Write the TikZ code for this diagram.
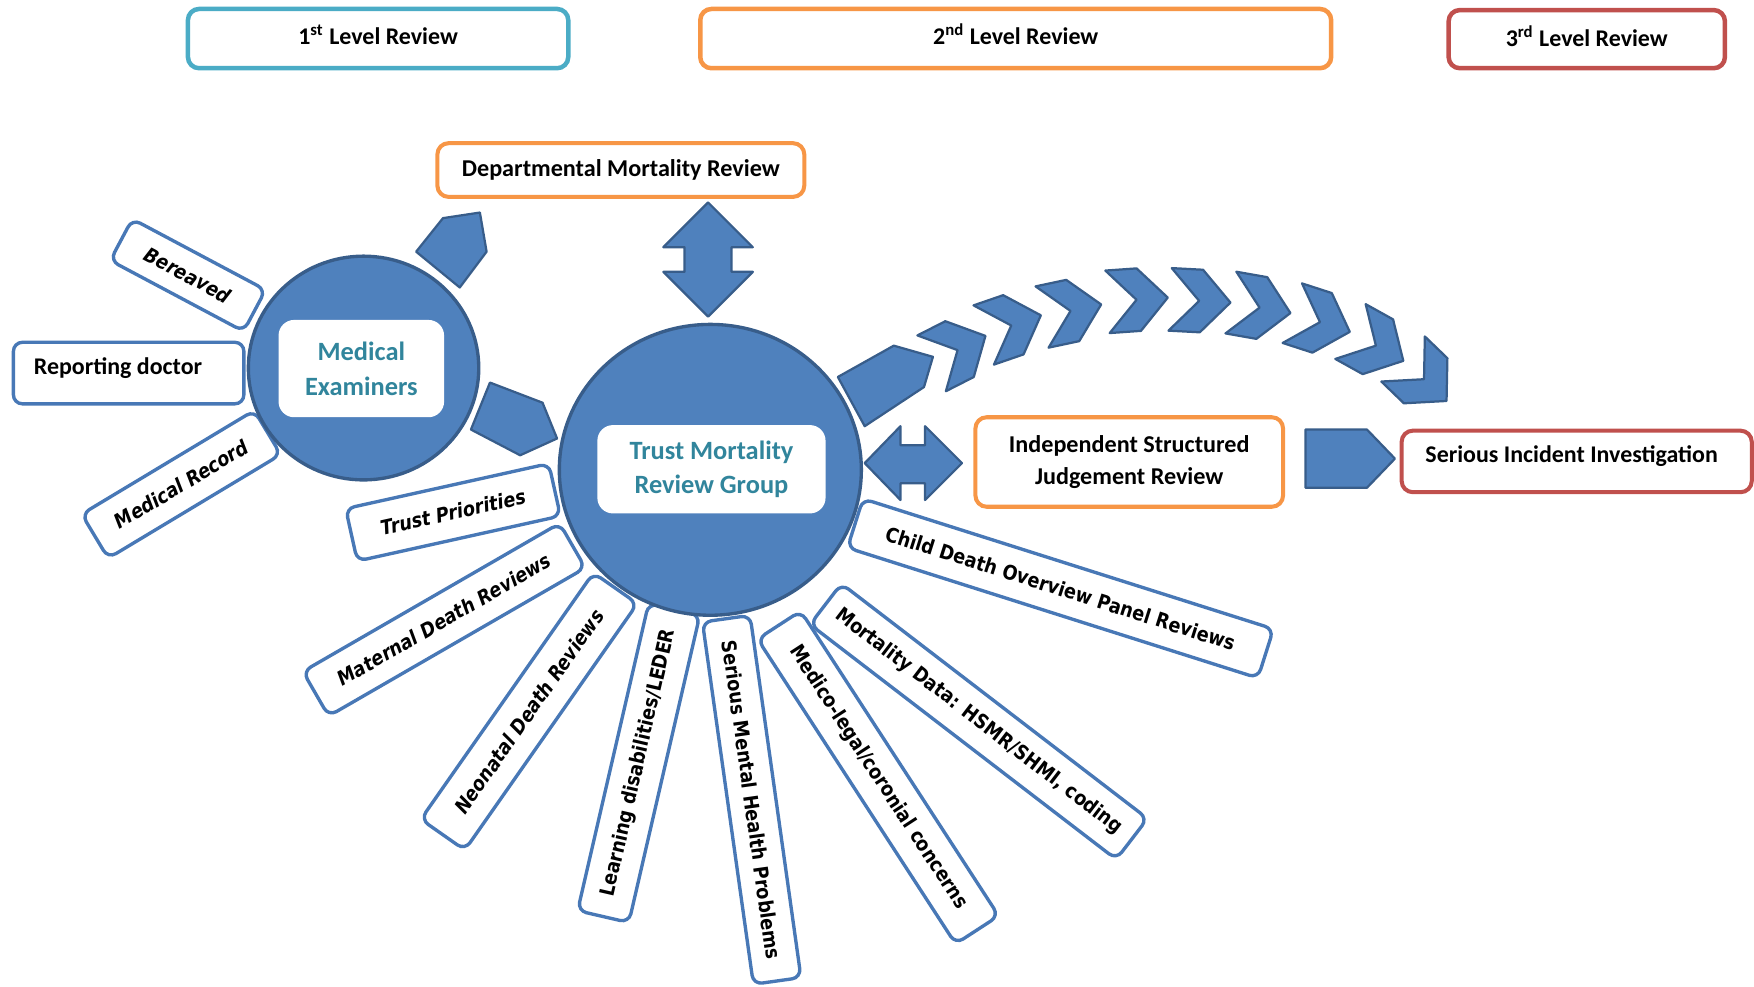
\documentclass[tikz,border=0pt]{standalone}
\usepackage{fontspec}
\setmainfont{Carlito}
\newfontfamily\rayfont[FakeStretch=0.88]{DejaVu Sans}
\usetikzlibrary{shapes.geometric}
\definecolor{cteal}{RGB}{75,172,198}
\definecolor{corange}{RGB}{247,150,70}
\definecolor{cred}{RGB}{192,80,77}
\definecolor{mblue}{RGB}{79,129,189}
\definecolor{dblue}{RGB}{56,93,138}
\definecolor{rblue}{RGB}{72,120,182}
\definecolor{ttext}{RGB}{49,133,156}
\begin{document}
\begin{tikzpicture}[x=0.5pt,y=-0.5pt,
  lvl/.style={draw, line width=2pt, rounded corners=5pt, fill=white, inner sep=0pt,
    font=\fontsize{10.7}{13}\selectfont\bfseries},
  obox/.style={draw, line width=1.8pt, rounded corners=5pt, fill=white, inner sep=0pt,
    font=\fontsize{10.8}{14.5}\selectfont\bfseries, align=center},
  ray/.style={draw=rblue, line width=1.5pt, rounded corners=4pt, fill=white, inner sep=0pt,
    font=\rayfont\fontsize{9}{11}\selectfont\bfseries},
  irect/.style={fill=white, rounded corners=7pt, inner sep=0pt, align=center,
    text=ttext, font=\fontsize{11.8}{15.5}\selectfont\bfseries},
  circ/.style={ellipse, fill=mblue, draw=dblue, line width=1.5pt, inner sep=0pt},
  shp/.style={fill=mblue, draw=dblue, line width=1pt, line join=round},
  txt/.style={inner sep=0pt, font=\fontsize{10.7}{13}\selectfont\bfseries}]
\useasboundingbox (0,0) rectangle (1568,882);

% level headers
\node[lvl, draw=cteal, minimum width=170pt, minimum height=26.5pt] (l1) at (338,34.5) {};
\node[txt] (l1t) at (338,31.5) {1\textsuperscript{st} Level Review};
\node[lvl, draw=corange, minimum width=282pt, minimum height=26.5pt] (l2) at (908,34.5) {};
\node[txt] (l2t) at (908,30.5) {2\textsuperscript{nd} Level Review};
\node[lvl, draw=cred, minimum width=123.5pt, minimum height=26pt] (l3) at (1418.5,35) {};
\node[txt] (l3t) at (1418.5,32.5) {3\textsuperscript{rd} Level Review};

% rays of the trust group
\node[ray, minimum width=192.5pt, minimum height=23pt, rotate=-17.6] (child) at (948,526) {Child Death Overview Panel Reviews};
\node[ray, minimum width=172.5pt, minimum height=23pt, rotate=-37.5] (mdata) at (875,645) {Mortality Data: HSMR/SHMI, coding};
\node[ray, minimum width=162.5pt, minimum height=23pt, rotate=-57] (medleg) at (785,695) {Medico-legal/coronial concerns};
\node[ray, minimum width=163.5pt, minimum height=21.5pt, rotate=-82] (smh) at (672,715) {Serious Mental Health Problems};
\node[ray, minimum width=141pt, minimum height=23.5pt, rotate=77] (ld) at (571,682) {Learning disabilities/LEDER};
\node[ray, minimum width=134.5pt, minimum height=24pt, rotate=55] (neo) at (473,636) {\itshape Neonatal Death Reviews};
\node[ray, minimum width=132.5pt, minimum height=23pt, rotate=30] (mat) at (397,554) {\itshape Maternal Death Reviews};
\node[ray, minimum width=93pt, minimum height=24pt, rotate=12.5] (tp) at (405,458) {\itshape Trust Priorities};

% rays of the medical examiners
\node[ray, minimum width=67.5pt, minimum height=21pt, rotate=-28] (ber) at (168,246) {\itshape Bereaved};
\node[ray, minimum width=90pt, minimum height=23pt, rotate=31] (mrec) at (162,433) {\itshape Medical Record};
\node[ray, minimum width=103pt, minimum height=27.5pt] (rd) at (115,333.5) {};
\node[txt] (rdt) at (105.5,329) {Reporting doctor};

% circles
\node[circ, minimum width=103pt, minimum height=100pt] (me) at (325,329) {};
\node[circ, minimum width=135pt, minimum height=130pt] (tmrg) at (635,420) {};
\node[irect, minimum width=74pt, minimum height=43.5pt] (mei) at (323,329.5) {Medical\\Examiners};
\node[irect, minimum width=102pt, minimum height=39.5pt] (tmi) at (636,419.5) {Trust Mortality\\Review Group};

% second / third level boxes
\node[obox, draw=corange, minimum width=164pt, minimum height=24pt] (dmr) at (555,152) {Departmental Mortality Review};
\node[obox, draw=corange, minimum width=137.5pt, minimum height=40pt] (isj) at (1009.5,413) {Independent Structured\\Judgement Review};
\node[obox, draw=cred, minimum width=156.5pt, minimum height=27.5pt] (sii) at (1409.5,412.5) {};
\node[txt] (siit) at (1405,408) {Serious Incident Investigation};

% block arrows
\draw[shp] (372,225) -- (396,195) -- (429,190) -- (435,225) -- (411,257) -- cycle;
\draw[shp] (438,342) -- (485,360) -- (498,392) -- (465,407) -- (421,384) -- cycle;
\draw[shp] (749,337) -- (799,309) -- (834,319) -- (826,346) -- (773,381) -- cycle;
\draw[shp] (1167,384) -- (1222,384) -- (1247,410) -- (1222,436) -- (1167,436) -- cycle;
\draw[shp] (633,181) -- (673,221) -- (654,221) -- (654,243) -- (673,243) -- (633,283)
  -- (593,243) -- (612,243) -- (612,221) -- (593,221) -- cycle;
\draw[shp] (773,414) -- (805,381) -- (805,398) -- (827,398) -- (827,381) -- (860,414)
  -- (827,447) -- (827,432) -- (805,432) -- (805,447) -- cycle;

% chevrons along the arc
\foreach \cx/\cy/\a in {856/313/27, 904/291/19, 957/278/12, 1016/268/4, 1072/269/-3,
  1126/275/-10, 1180/288/-18, 1230/309/-29, 1273/339/-44}{
  \draw[shp, shift={(\cx,\cy)}, rotate=\a] (-26,28) -- (2,28) -- (28,0) -- (2,-28) -- (-26,-28) -- (0,0) -- cycle;
}
\end{tikzpicture}
\end{document}
